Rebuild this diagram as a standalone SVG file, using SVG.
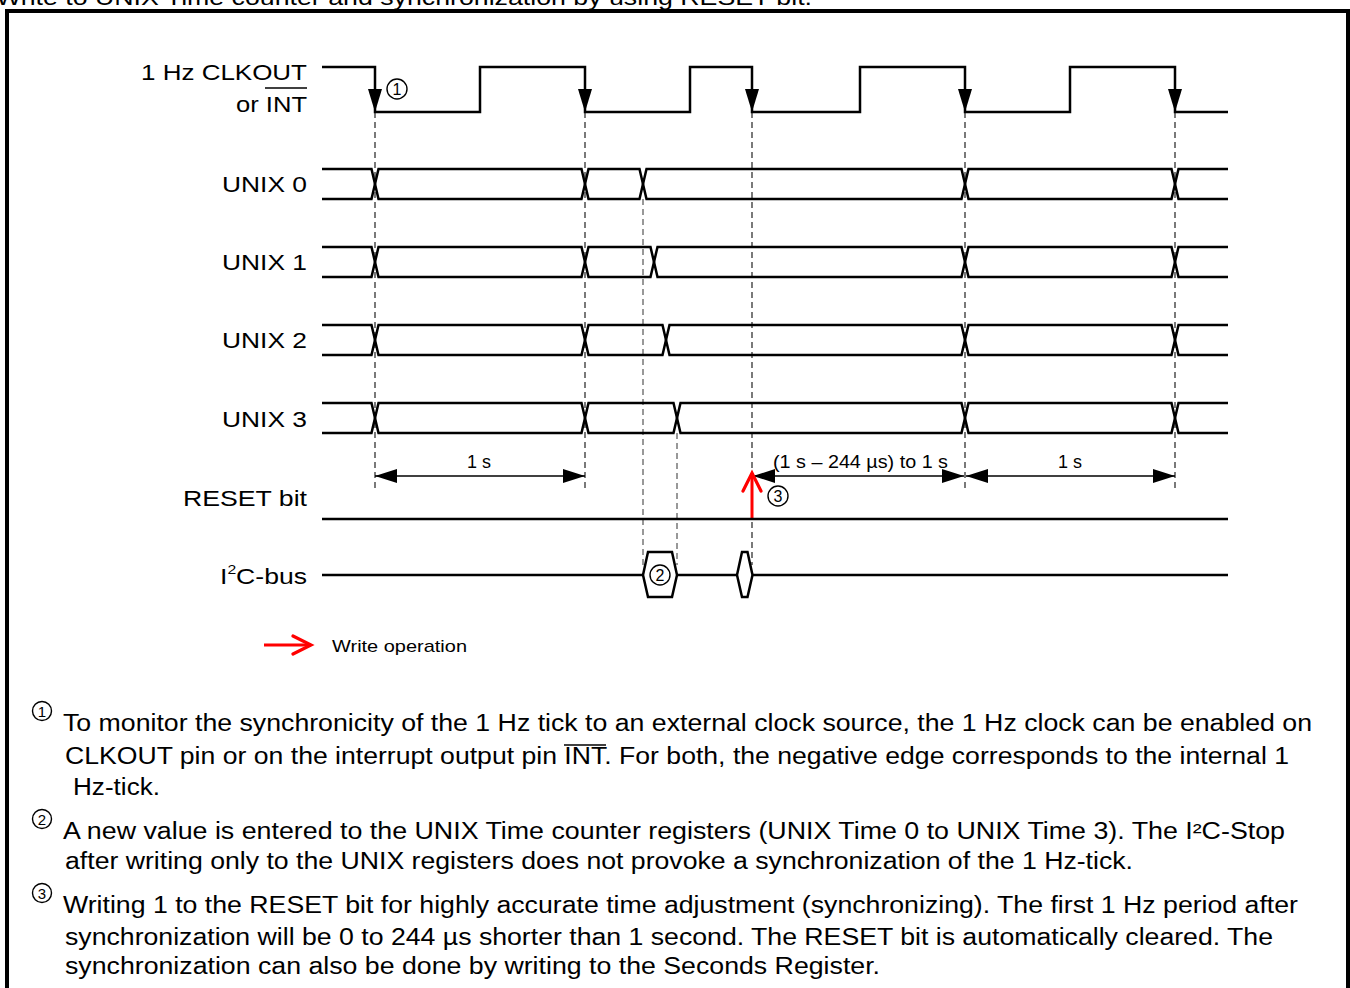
<svg xmlns="http://www.w3.org/2000/svg" width="1350" height="988" viewBox="0 0 1350 988">
<style>
text{font-family:"Liberation Sans",Arial,Helvetica,sans-serif;fill:#000}
.lbl{font-size:22px}
.note{font-size:23px}
.dim{font-size:18px}
.sig{fill:none;stroke:#000;stroke-width:2.5;stroke-linejoin:miter}
.dash{stroke:#333;stroke-width:1.3;stroke-dasharray:6 4;fill:none}
.dashg{stroke:#777;stroke-width:1.5;stroke-dasharray:6 4;fill:none}
.circ{fill:#fff;stroke:#000;stroke-width:1.4}
.cd{font-size:16px;text-anchor:middle}
.cds{font-size:15px;text-anchor:middle}
.dimline{stroke:#000;stroke-width:1.5;fill:none}
.red{stroke:#f00;stroke-width:3;fill:none}
.ovl{stroke:#000;stroke-width:1.6}
</style>
<defs>
<marker id="ah" viewBox="0 0 22 14" refX="22" refY="7" markerWidth="22" markerHeight="14" markerUnits="userSpaceOnUse" orient="auto-start-reverse"><path d="M0,0 L22,7 L0,14 Z" fill="#000"/></marker>
<marker id="rh" viewBox="-2 -2 24 24" refX="18" refY="9" markerWidth="24" markerHeight="24" markerUnits="userSpaceOnUse" orient="auto"><path d="M0,0 L18,9 L0,18" fill="none" stroke="#f00" stroke-width="3.2" stroke-linecap="round" stroke-linejoin="miter"/></marker>
<path id="tri" d="M-7,-23 L7,-23 L0,0 Z" fill="#000"/>
</defs>

<text class="lbl" x="-4" y="5" textLength="816" lengthAdjust="spacingAndGlyphs">Write to UNIX Time counter and synchronization by using RESET bit.</text>
<rect x="7" y="11" width="1341" height="1000" fill="none" stroke="#000" stroke-width="4"/>

<g id="connectors">
<line class="dash" x1="375" y1="112" x2="375" y2="490"/>
<line class="dash" x1="585" y1="112" x2="585" y2="490"/>
<line class="dash" x1="752" y1="112" x2="752" y2="565"/>
<line class="dash" x1="965" y1="112" x2="965" y2="490"/>
<line class="dash" x1="1175" y1="112" x2="1175" y2="490"/>
<line class="dashg" x1="643" y1="199" x2="643" y2="565"/>
<line class="dashg" x1="677" y1="433" x2="677" y2="565"/>
<line class="dimline" x1="375" y1="476" x2="585" y2="476" marker-start="url(#ah)" marker-end="url(#ah)"/>
<line class="dimline" x1="753" y1="476" x2="964" y2="476" marker-start="url(#ah)" marker-end="url(#ah)"/>
<line class="dimline" x1="966" y1="476" x2="1175" y2="476" marker-start="url(#ah)" marker-end="url(#ah)"/>
<line class="red" x1="752" y1="520" x2="752" y2="473" marker-end="url(#rh)"/>
</g>

<g id="clkout">
<text class="lbl" x="141" y="80" textLength="166" lengthAdjust="spacingAndGlyphs">1 Hz CLKOUT</text>
<text class="lbl" x="236" y="112" textLength="71" lengthAdjust="spacingAndGlyphs">or INT</text>
<line class="ovl" x1="265" y1="88" x2="307" y2="88"/>
<path class="sig" d="M322,67 H375 V112 H480 V67 H585 V112 H690 V67 H752 V112 H860 V67 H965 V112 H1070 V67 H1175 V112 H1228"/>
<use href="#tri" x="375" y="112"/>
<use href="#tri" x="585" y="112"/>
<use href="#tri" x="752" y="112"/>
<use href="#tri" x="965" y="112"/>
<use href="#tri" x="1175" y="112"/>
<circle class="circ" cx="397" cy="89" r="10"/>
<text class="cd" x="397" y="95">1</text>
</g>

<g id="unix0">
<text class="lbl" x="222" y="192" textLength="85" lengthAdjust="spacingAndGlyphs">UNIX 0</text>
<path class="sig" d="M322,169 H371.5 L378.5,199 H581.5 L588.5,169 H639.5 L646.5,199 H961.5 L968.5,169 H1171.5 L1178.5,199 H1228"/>
<path class="sig" d="M322,199 H371.5 L378.5,169 H581.5 L588.5,199 H639.5 L646.5,169 H961.5 L968.5,199 H1171.5 L1178.5,169 H1228"/>
</g>
<g id="unix1">
<text class="lbl" x="222" y="270" textLength="85" lengthAdjust="spacingAndGlyphs">UNIX 1</text>
<path class="sig" d="M322,247 H371.5 L378.5,277 H581.5 L588.5,247 H650.5 L657.5,277 H961.5 L968.5,247 H1171.5 L1178.5,277 H1228"/>
<path class="sig" d="M322,277 H371.5 L378.5,247 H581.5 L588.5,277 H650.5 L657.5,247 H961.5 L968.5,277 H1171.5 L1178.5,247 H1228"/>
</g>
<g id="unix2">
<text class="lbl" x="222" y="348" textLength="85" lengthAdjust="spacingAndGlyphs">UNIX 2</text>
<path class="sig" d="M322,325 H371.5 L378.5,355 H581.5 L588.5,325 H662.5 L669.5,355 H961.5 L968.5,325 H1171.5 L1178.5,355 H1228"/>
<path class="sig" d="M322,355 H371.5 L378.5,325 H581.5 L588.5,355 H662.5 L669.5,325 H961.5 L968.5,355 H1171.5 L1178.5,325 H1228"/>
</g>
<g id="unix3">
<text class="lbl" x="222" y="427" textLength="85" lengthAdjust="spacingAndGlyphs">UNIX 3</text>
<path class="sig" d="M322,403 H371.5 L378.5,433 H581.5 L588.5,403 H673.5 L680.5,433 H961.5 L968.5,403 H1171.5 L1178.5,433 H1228"/>
<path class="sig" d="M322,433 H371.5 L378.5,403 H581.5 L588.5,433 H673.5 L680.5,403 H961.5 L968.5,433 H1171.5 L1178.5,403 H1228"/>
</g>

<g id="dims">
<text class="dim" x="467" y="468" textLength="24" lengthAdjust="spacingAndGlyphs">1 s</text>
<text class="dim" x="773" y="468" textLength="175" lengthAdjust="spacingAndGlyphs">(1 s – 244 µs) to 1 s</text>
<text class="dim" x="1058" y="468" textLength="24" lengthAdjust="spacingAndGlyphs">1 s</text>
</g>

<g id="reset">
<text class="lbl" x="183" y="506" textLength="124" lengthAdjust="spacingAndGlyphs">RESET bit</text>
<line class="sig" x1="322" y1="519" x2="1228" y2="519"/>
<circle class="circ" cx="778" cy="496" r="10"/>
<text class="cd" x="778" y="502">3</text>
</g>

<g id="i2c">
<text class="lbl" x="220" y="584" textLength="87" lengthAdjust="spacingAndGlyphs">I<tspan font-size="13" dy="-10">2</tspan><tspan dy="10">C-bus</tspan></text>
<path class="sig" d="M322,575 H643 M677,575 H737 M752.5,575 H1228"/>
<path class="sig" d="M643,575 L648,552 H672 L677,575 L672,597 H648 Z"/>
<path class="sig" d="M737,575 L742,552 H747.5 L752.5,575 L747.5,597 H742 Z"/>
<circle class="circ" cx="660" cy="575" r="10"/>
<text class="cd" x="660" y="581">2</text>
</g>

<g id="legend">
<line class="red" x1="264" y1="645" x2="311" y2="645" marker-end="url(#rh)"/>
<text x="332" y="652" font-size="17" textLength="135" lengthAdjust="spacingAndGlyphs">Write operation</text>
</g>

<g id="notes">
<circle class="circ" cx="42" cy="711" r="9.5"/>
<text class="cds" x="42" y="716.5">1</text>
<text class="note" x="63" y="731" textLength="1249" lengthAdjust="spacingAndGlyphs">To monitor the synchronicity of the 1 Hz tick to an external clock source, the 1 Hz clock can be enabled on</text>
<text class="note" x="65" y="764" textLength="1224" lengthAdjust="spacingAndGlyphs">CLKOUT pin or on the interrupt output pin INT. For both, the negative edge corresponds to the internal 1</text>
<line class="ovl" x1="564" y1="745" x2="606" y2="745"/>
<text class="note" x="73" y="795" textLength="87" lengthAdjust="spacingAndGlyphs">Hz-tick.</text>
<circle class="circ" cx="42" cy="819" r="9.5"/>
<text class="cds" x="42" y="824.5">2</text>
<text class="note" x="63" y="839" textLength="1222" lengthAdjust="spacingAndGlyphs">A new value is entered to the UNIX Time counter registers (UNIX Time 0 to UNIX Time 3). The I²C-Stop</text>
<text class="note" x="65" y="869" textLength="1068" lengthAdjust="spacingAndGlyphs">after writing only to the UNIX registers does not provoke a synchronization of the 1 Hz-tick.</text>
<circle class="circ" cx="42" cy="893" r="9.5"/>
<text class="cds" x="42" y="898.5">3</text>
<text class="note" x="63" y="913" textLength="1235" lengthAdjust="spacingAndGlyphs">Writing 1 to the RESET bit for highly accurate time adjustment (synchronizing). The first 1 Hz period after</text>
<text class="note" x="65" y="945" textLength="1208" lengthAdjust="spacingAndGlyphs">synchronization will be 0 to 244 µs shorter than 1 second. The RESET bit is automatically cleared. The</text>
<text class="note" x="65" y="974" textLength="815" lengthAdjust="spacingAndGlyphs">synchronization can also be done by writing to the Seconds Register.</text>
</g>
</svg>
